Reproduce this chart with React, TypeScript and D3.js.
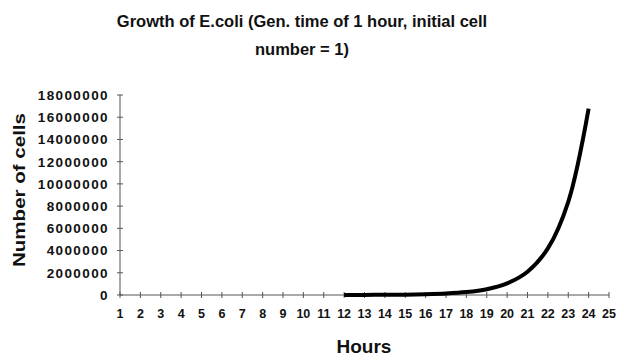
import * as d3 from "d3";

const hours = [12, 13, 14, 15, 16, 17, 18, 19, 20, 21, 22, 23, 24];
const cells = [4096, 8192, 16384, 32768, 65536, 131072, 262144, 524288, 1048576, 2097152, 4194304, 8388608, 16777216];
const hourTicks = [1, 2, 3, 4, 5, 6, 7, 8, 9, 10, 11, 12, 13, 14, 15, 16, 17, 18, 19, 20, 21, 22, 23, 24, 25];
const cellTicks = [0, 2000000, 4000000, 6000000, 8000000, 10000000, 12000000, 14000000, 16000000, 18000000];
const title = ["Growth of E.coli (Gen. time of 1 hour, initial cell", "number = 1)"];

const W = 624;
const H = 363;
const font = "'Liberation Sans', Arial, sans-serif";

function App() {
    const x = d3.scaleLinear().domain([1, 25]).range([120, 609]);
    const y = d3.scaleLinear().domain([0, 18000000]).range([295, 95]);

    const points = hours.map((h, i) => [h, cells[i]] as [number, number]);
    const line = d3.line<[number, number]>()
        .x(d => x(d[0]))
        .y(d => y(d[1]))
        .curve(d3.curveCatmullRom);

    const axisColor = "#555";

    return (
        <svg width={W} height={H} style={{ position: "absolute", left: 0, top: 0, background: "white" }} fontFamily={font}>
            {/* title */}
            {title.map((t, i) => (
                <text key={i} x={302} y={27 + i * 28} textAnchor="middle" fontSize={16.5} fontWeight="bold" fill="#111">{t}</text>
            ))}

            {/* y axis */}
            <line x1={x(1)} x2={x(1)} y1={y(0)} y2={y(18000000)} stroke={axisColor} strokeWidth={1} />
            {cellTicks.map(v => (
                <g key={v}>
                    <line x1={x(1) - 3} x2={x(1) + 3} y1={y(v)} y2={y(v)} stroke={axisColor} />
                    <text x={109} y={y(v)} dy="0.36em" textAnchor="end" fontSize={13.5} fontWeight="bold" letterSpacing={1.4} fill="#111">{v}</text>
                </g>
            ))}

            {/* x axis */}
            <line x1={x(1)} x2={x(25)} y1={y(0)} y2={y(0)} stroke={axisColor} strokeWidth={1} />
            {hourTicks.map(h => (
                <g key={h}>
                    <line x1={x(h)} x2={x(h)} y1={y(0) - 3} y2={y(0) + 3} stroke={axisColor} />
                    <text x={x(h)} y={313} dy="0.36em" textAnchor="middle" fontSize={12.5} fontWeight="bold" fill="#111">{h}</text>
                </g>
            ))}

            {/* series */}
            <path d={line(points) ?? ""} fill="none" stroke="#000" strokeWidth={4} strokeLinejoin="round" />

            {/* axis titles */}
            <text x={364} y={353} textAnchor="middle" fontSize={19} fontWeight="bold" fill="#111">Hours</text>
            <text transform="translate(25,190) rotate(-90)" textAnchor="middle" fontSize={17} fontWeight="bold" fill="#111"
                textLength={154} lengthAdjust="spacingAndGlyphs">Number of cells</text>
        </svg>
    );
}

export default App;
